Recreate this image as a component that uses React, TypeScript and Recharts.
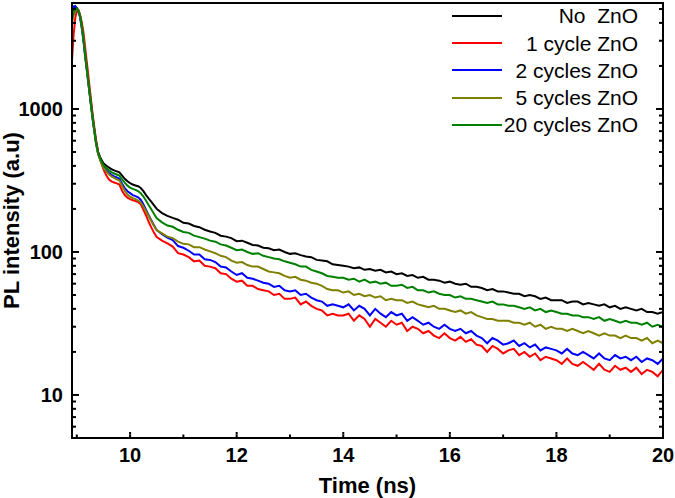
import React from 'react';
import { LineChart, Line, XAxis, YAxis, Legend, Label, ReferenceArea } from 'recharts';

const FONT = '"Liberation Sans", Arial, Helvetica, sans-serif';

// Time (ns)
const time = [
  8.91, 8.94, 8.97, 9.0, 9.03, 9.06, 9.09, 9.12, 9.15, 9.18,
  9.21, 9.24, 9.27, 9.3, 9.33, 9.36, 9.4, 9.45, 9.5, 9.55,
  9.6, 9.65, 9.7, 9.75, 9.8, 9.85, 9.9, 9.95, 10.0, 10.05,
  10.1, 10.15, 10.2, 10.25, 10.3, 10.35, 10.4, 10.45, 10.5,
  10.6, 10.7, 10.8, 10.9, 11.0, 11.1, 11.2, 11.3, 11.4, 11.5,
  11.6, 11.7, 11.8, 11.9, 12.0, 12.1, 12.2, 12.3, 12.4, 12.5,
  12.6, 12.7, 12.8, 12.9, 13.0, 13.1, 13.2, 13.3, 13.4, 13.5,
  13.6, 13.7, 13.8, 13.9, 14.0, 14.1, 14.2, 14.3, 14.4, 14.5,
  14.6, 14.7, 14.8, 14.9, 15.0, 15.1, 15.2, 15.3, 15.4, 15.5,
  15.6, 15.7, 15.8, 15.9, 16.0, 16.1, 16.2, 16.3, 16.4, 16.5,
  16.6, 16.7, 16.8, 16.9, 17.0, 17.1, 17.2, 17.3, 17.4, 17.5,
  17.6, 17.7, 17.8, 17.9, 18.0, 18.1, 18.2, 18.3, 18.4, 18.5,
  18.6, 18.7, 18.8, 18.9, 19.0, 19.1, 19.2, 19.3, 19.4, 19.5,
  19.6, 19.7, 19.8, 19.9, 20.0,
];

const noZnO = [
  4500, 4900, 5150, 5100, 4900, 4550, 3900, 3250, 2550, 2050,
  1640, 1320, 1070, 860, 715, 595, 500, 450, 418, 402,
  390, 380, 372, 366, 360, 342, 325, 312, 303, 296,
  292, 288, 280, 266, 250, 236, 224, 212, 200,
  187, 179, 173, 168, 160, 158, 152, 149, 143, 139,
  136, 130, 128, 125, 119, 120, 116, 112, 111, 107,
  106, 103, 104, 100, 97, 98, 95, 93, 92, 88,
  87, 86, 82, 81, 80, 79, 77, 78, 75, 76,
  74, 75, 72, 73, 70, 71, 68, 69, 66, 67,
  64, 64, 63, 61, 62, 60, 59, 60, 57, 57,
  56, 54, 55, 53, 53, 52, 51, 51, 49, 50,
  49, 47, 48, 46, 46, 46, 44, 45, 45, 43,
  44, 43, 42, 43, 41, 42, 40, 41, 40, 39,
  40, 38, 38, 37, 38,
];

const cycle1 = [
  2200, 3300, 4300, 4850, 4900, 4550, 4100, 3550, 2850, 2250,
  1800, 1420, 1130, 900, 740, 610, 500, 430, 380, 345,
  322, 312, 306, 302, 296, 268, 250, 240, 234, 230,
  227, 223, 216, 197, 180, 162, 148, 136, 127,
  120, 115, 109, 98, 96, 92, 86, 87, 80, 79,
  77, 71, 70, 65, 62, 63, 58, 58, 55, 54,
  53, 50, 51, 47, 47, 48, 43, 45, 42, 40,
  39, 36, 37, 36, 36, 37, 33, 36, 34, 30,
  34, 32, 30, 33, 31, 32, 28, 30, 29, 27,
  28, 26, 25, 27, 25, 24, 25.5, 23.5, 24.5, 22.5,
  22, 20, 22, 21, 19.5, 20.5, 21, 19, 20, 18.5,
  19.5, 17.5, 18.5, 18, 17.5, 16.5, 18, 16.5, 16, 17,
  16, 15, 16.5, 15, 14.5, 16, 15, 15.5, 14.5, 15.5,
  14, 15, 14.5, 13.5, 15,
];

const cycles2 = [
  4900, 5200, 5250, 5050, 4750, 4400, 3750, 3100, 2450, 1980,
  1590, 1280, 1030, 835, 695, 578, 485, 434, 395, 373,
  358, 346, 338, 332, 325, 300, 280, 266, 258, 250,
  246, 241, 232, 215, 197, 180, 166, 153, 142,
  133, 126, 121, 110, 107, 102, 96, 96, 89, 88,
  85, 79, 78, 73, 69, 71, 66, 65, 63, 61,
  60, 57, 58, 54, 53, 54, 50, 51, 48, 46,
  45, 42, 43, 42, 41, 43, 39, 42, 40, 36,
  40, 37, 35, 38, 36, 37, 33, 35, 33, 31,
  32, 30, 29, 31, 29, 28, 29, 27, 28, 26,
  25, 23, 25, 24, 22.5, 23, 24, 22, 23, 21.5,
  22.5, 20.5, 21.5, 21, 20.5, 19.5, 21, 19.5, 19, 20,
  19, 18, 19.5, 18, 17.5, 19, 18, 18.5, 17.5, 18.5,
  17, 18, 17.5, 16.5, 18,
];

const cycles5 = [
  4000, 4500, 4850, 5000, 4850, 4500, 3850, 3200, 2520, 2020,
  1610, 1290, 1040, 840, 695, 575, 482, 428, 388, 366,
  350, 338, 330, 322, 316, 290, 268, 252, 244, 238,
  234, 229, 222, 208, 193, 178, 164, 152, 142,
  135, 128, 125, 118, 114, 113, 108, 108, 104, 101,
  98, 94, 92, 87, 84, 85, 81, 79, 79, 76,
  73, 72, 71, 68, 66, 67, 64, 63, 61, 60,
  58, 55, 54, 54, 52, 53, 50, 51, 49, 50,
  48, 49, 46, 47, 46, 46, 44, 45, 43, 42,
  41, 42, 40, 40, 39, 38, 39, 37, 38, 36,
  35, 34, 34, 33, 33, 33, 32, 32, 31, 32,
  30, 31, 29, 30, 29, 29, 28, 29, 28, 27,
  28, 27, 26, 27, 26, 26, 25, 26, 25, 25,
  24, 25, 23, 24, 23,
];

const cycles20 = [
  4300, 4750, 5000, 5050, 4850, 4500, 3850, 3200, 2520, 2020,
  1620, 1300, 1050, 850, 705, 585, 492, 440, 405, 388,
  374, 362, 354, 348, 342, 322, 305, 291, 282, 276,
  272, 266, 258, 244, 228, 212, 198, 184, 172,
  161, 153, 150, 143, 138, 136, 130, 127, 124, 120,
  118, 113, 111, 107, 103, 104, 100, 97, 98, 94,
  92, 90, 89, 86, 84, 82, 79, 79, 75, 73,
  71, 68, 67, 66, 66, 64, 65, 62, 64, 61,
  62, 60, 61, 58, 58, 59, 56, 57, 54, 54,
  52, 53, 51, 50, 50, 48, 49, 47, 47, 46,
  45, 44, 45, 43, 43, 42, 42, 41, 40, 41,
  39, 40, 38, 39, 38, 37, 37, 36, 36, 35,
  35, 34, 35, 33, 34, 33, 32, 33, 32, 32,
  31, 32, 30, 31, 30,
];

const seriesMeta = [
  { key: 'noZnO', name: 'No  ZnO', color: '#000000', values: noZnO },
  { key: 'cycle1', name: '1 cycle ZnO', color: '#ff0000', values: cycle1 },
  { key: 'cycles2', name: '2 cycles ZnO', color: '#0000ff', values: cycles2 },
  { key: 'cycles5', name: '5 cycles ZnO', color: '#808000', values: cycles5 },
  { key: 'cycles20', name: '20 cycles ZnO', color: '#008000', values: cycles20 },
];

const xTicks = [9, 10, 11, 12, 13, 14, 15, 16, 17, 18, 19, 20];
const xMajor = [10, 12, 14, 16, 18, 20];
const yTicks = [
  6, 7, 8, 9, 10, 20, 30, 40, 50, 60, 70, 80, 90, 100,
  200, 300, 400, 500, 600, 700, 800, 900, 1000, 2000, 3000, 4000, 5000,
];
const yMajor = [10, 100, 1000];
const xDomain = [8.91, 20];
const yDomain = [5, 5510];

const data = time.map((t, i) => {
  const row: Record<string, number> = { t };
  seriesMeta.forEach((s) => {
    row[s.key] = s.values[i];
  });
  return row;
});

const TICK_LINE = { stroke: '#000', strokeWidth: 2 };

// built-in tick lines are the short (minor) inward ticks; majors get an extension
const BottomTick = (props: any) => {
  const { x, y, payload } = props;
  const major = xMajor.includes(payload.value);
  return (
    <g>
      {major && <path d={`M${x},${y}V${y - 2.5}`} stroke="#000" strokeWidth={2} fill="none" />}
      {major && (
        <text x={x} y={y + 27.5} textAnchor="middle" fontFamily={FONT} fontWeight="bold" fontSize={20} fill="#000">
          {payload.value}
        </text>
      )}
    </g>
  );
};

const LeftTick = (props: any) => {
  const { x, y, payload } = props;
  const major = yMajor.includes(payload.value);
  return (
    <g>
      {major && <path d={`M${x},${y}H${x + 3}`} stroke="#000" strokeWidth={2} fill="none" />}
      {major && (
        <text x={x - 13} y={y + 7} textAnchor="end" fontFamily={FONT} fontWeight="bold" fontSize={20} fill="#000">
          {payload.value}
        </text>
      )}
    </g>
  );
};

const RightTick = (props: any) => {
  const { x, y, payload } = props;
  const major = yMajor.includes(payload.value);
  return <g>{major && <path d={`M${x},${y}H${x - 3}`} stroke="#000" strokeWidth={2} fill="none" />}</g>;
};

const renderLegend = () => (
  <div style={{ fontFamily: FONT, fontSize: 21, color: '#000' }}>
    {seriesMeta.map((s) => (
      <div key={s.key} style={{ display: 'flex', alignItems: 'center', height: 27.2 }}>
        <div style={{ width: 50, height: 2, background: s.color }} />
        <div style={{ width: 136, textAlign: 'right', whiteSpace: 'pre', lineHeight: '27.2px' }}>{s.name}</div>
      </div>
    ))}
  </div>
);

export default function App() {
  return (
    <div style={{ position: 'absolute', left: 0, top: 0, background: '#fff' }}>
      <LineChart width={675} height={498} data={data} margin={{ top: 3, right: 11, left: 0, bottom: 0 }}>
        <XAxis
          dataKey="t"
          type="number"
          domain={xDomain}
          allowDataOverflow
          ticks={xTicks}
          interval={0}
          height={60}
          tickSize={-3.5}
          tickMargin={0}
          tickLine={TICK_LINE}
          tick={<BottomTick />}
          axisLine={{ stroke: '#000', strokeWidth: 2 }}
        >
          <Label
            content={(p: any) => {
              const vb = p.viewBox;
              return (
                <text x={vb.x + vb.width / 2} y={vb.y + 55} textAnchor="middle" fontFamily={FONT} fontWeight="bold" fontSize={22} fill="#000">
                  Time (ns)
                </text>
              );
            }}
          />
        </XAxis>
        <YAxis
          type="number"
          scale="log"
          domain={yDomain}
          allowDataOverflow
          ticks={yTicks}
          interval={0}
          width={72}
          tickSize={-4}
          tickMargin={0}
          tickLine={TICK_LINE}
          tick={<LeftTick />}
          axisLine={{ stroke: '#000', strokeWidth: 2 }}
        >
          <Label
            content={(p: any) => {
              const vb = p.viewBox;
              const cx = vb.x + 19;
              const cy = vb.y + vb.height / 2;
              return (
                <text x={cx} y={cy} transform={`rotate(-90 ${cx} ${cy})`} textAnchor="middle" fontFamily={FONT} fontWeight="bold" fontSize={22} fill="#000">
                  PL intensity (a.u)
                </text>
              );
            }}
          />
        </YAxis>
        <YAxis
          yAxisId="right"
          orientation="right"
          type="number"
          scale="log"
          domain={yDomain}
          allowDataOverflow
          ticks={yTicks}
          interval={0}
          width={1}
          tickSize={-4}
          tickMargin={0}
          tickLine={TICK_LINE}
          tick={<RightTick />}
          axisLine={{ stroke: '#000', strokeWidth: 2 }}
        />
        <Legend
          layout="vertical"
          align="center"
          verticalAlign="middle"
          content={renderLegend}
          wrapperStyle={{ top: 2.4, left: 452, width: 'auto' }}
        />
        <Line
          yAxisId="right"
          dataKey="noZnO"
          stroke="none"
          strokeOpacity={0}
          legendType="none"
          dot={false}
          activeDot={false}
          isAnimationActive={false}
        />
        {seriesMeta.map((s) => (
          <Line
            key={s.key}
            dataKey={s.key}
            name={s.name}
            stroke={s.color}
            strokeWidth={2}
            dot={false}
            type="linear"
            isAnimationActive={false}
          />
        ))}
        <ReferenceArea
          x1={xDomain[0]}
          x2={xDomain[1]}
          y1={yDomain[0]}
          y2={yDomain[1]}
          fill="none"
          fillOpacity={0}
          stroke="#000"
          strokeWidth={2}
          ifOverflow="visible"
        />
      </LineChart>
    </div>
  );
}
